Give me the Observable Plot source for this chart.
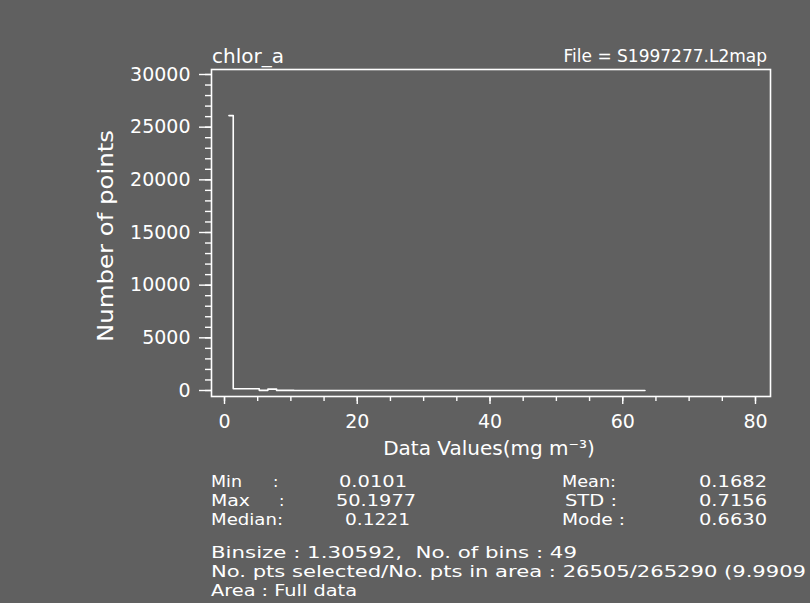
<!DOCTYPE html>
<html>
<head>
<meta charset="utf-8">
<script src="https://cdn.jsdelivr.net/npm/d3@7"></script>
<script src="https://cdn.jsdelivr.net/npm/@observablehq/plot@0.6"></script>
<style>
  html, body { margin: 0; padding: 0; background: #606060; overflow: hidden; }
  #chart { width: 810px; height: 603px; }
</style>
</head>
<body>
<div id="chart"></div>
<script>
// ---- data ----
const binCenters = [0.663, 1.969, 3.275, 4.581, 5.887, 7.193, 8.499, 9.804, 11.110, 12.416,
  13.722, 15.028, 16.334, 17.640, 18.946, 20.252, 21.558, 22.864, 24.170, 25.476,
  26.781, 28.087, 29.393, 30.699, 32.005, 33.311, 34.617, 35.923, 37.229, 38.535,
  39.841, 41.147, 42.453, 43.758, 45.064, 46.370, 47.676, 48.982, 50.288, 51.594,
  52.900, 54.206, 55.512, 56.818, 58.124, 59.430, 60.735, 62.041, 63.347];
const binCounts = [26100, 170, 170, 170, 15, 130, 10, 8, 6, 5,
  4, 3, 3, 2, 2, 2, 1, 1, 1, 1,
  1, 1, 1, 1, 1, 1, 1, 1, 1, 1,
  1, 1, 1, 1, 1, 1, 1, 1, 1, 0,
  0, 0, 0, 0, 0, 0, 0, 0, 0];
const yMajorTicks = [0, 5000, 10000, 15000, 20000, 25000, 30000];
const xMajorTicks = [0, 20, 40, 60, 80];
const yMinorTicks = d3.range(0, 30001, 1000);
const xMinorTicks = d3.range(0, 81, 5);

const variableName = "chlor_a";
const fileLabel = "File = S1997277.L2map";
const yTitle = "Number of points";
const xTitle = "Data Values(mg m\u207B\u00B3)";
const statLabels = ["Min", "Max", "Median:", "Mean:", "STD :", "Mode :"];
const statValues = ["0.0101", "50.1977", "0.1221", "0.1682", "0.7156", "0.6630"];
const infoLines = [
  "Binsize : 1.30592,  No. of bins : 49",
  "No. pts selected/No. pts in area : 26505/265290 (9.9909",
  "Area : Full data"
];

const hist = binCenters.map((x, i) => ({x, count: binCounts[i]}));

const WHITE = "#ffffff";
const chart = Plot.plot({
  width: 810,
  height: 603,
  marginLeft: 211,
  marginRight: 40,
  marginTop: 69,
  marginBottom: 207,
  style: {background: "#606060", color: WHITE, fontFamily: "DejaVu Sans", overflow: "visible"},
  x: {domain: [-1.96, 82.26], label: null},
  y: {domain: [-570, 30475], label: null},
  marks: [
    Plot.frame({stroke: WHITE, strokeWidth: 1.6}),
    Plot.axisY(yMinorTicks, {tickSize: 6, tickFormat: () => "", label: null, stroke: WHITE, strokeWidth: 1.4}),
    Plot.axisY(yMajorTicks, {tickSize: 12, tickPadding: 9, fontSize: 19, tickFormat: d => String(d), label: null, stroke: WHITE, strokeWidth: 1.4}),
    Plot.axisX(xMinorTicks, {tickSize: 5, tickFormat: () => "", label: null, stroke: WHITE, strokeWidth: 1.4}),
    Plot.axisX(xMajorTicks, {tickSize: 8, tickPadding: 10, fontSize: 19, tickFormat: d => String(d), label: null, stroke: WHITE, strokeWidth: 1.4}),
    Plot.line(hist, {x: "x", y: "count", curve: "step", stroke: WHITE, strokeWidth: 1.6})
  ]
});
document.getElementById("chart").appendChild(chart);

// ---- annotations (titles and statistics text) ----
const svg = d3.select(chart);
const g = svg.append("g").attr("fill", WHITE).attr("font-family", "DejaVu Sans");
function addText(t) {
  const el = g.append("text")
    .attr("x", t.x).attr("y", t.y)
    .attr("font-size", t.size)
    .attr("text-anchor", t.anchor || "start")
    .text(t.text);
  if (t.width) el.attr("textLength", t.width).attr("lengthAdjust", "spacingAndGlyphs");
  if (t.rotate) el.attr("transform", `rotate(${t.rotate},${t.x},${t.y})`);
  return el;
}
addText({text: variableName, x: 212, y: 63, size: 20});
addText({text: fileLabel, x: 767, y: 62, size: 17, anchor: "end"});
addText({text: yTitle, x: 113, y: 236, size: 21, anchor: "middle", rotate: -90, width: 212});
addText({text: xTitle, x: 489, y: 455, size: 20, anchor: "middle"});

// stats block
const SZ = 16;
const rowY = [487, 506, 525];
addText({text: statLabels[0], x: 211, y: rowY[0], size: SZ, width: 31});
addText({text: ":", x: 273, y: rowY[0], size: SZ});
addText({text: statValues[0], x: 339, y: rowY[0], size: SZ, width: 68});
addText({text: statLabels[1], x: 211, y: rowY[1], size: SZ, width: 39});
addText({text: ":", x: 279, y: rowY[1], size: SZ});
addText({text: statValues[1], x: 336, y: rowY[1], size: SZ, width: 80});
addText({text: statLabels[2], x: 211, y: rowY[2], size: SZ, width: 72});
addText({text: statValues[2], x: 345, y: rowY[2], size: SZ, width: 65});

addText({text: statLabels[3], x: 562, y: rowY[0], size: SZ, width: 54});
addText({text: statValues[3], x: 699, y: rowY[0], size: SZ, width: 68});
addText({text: statLabels[4], x: 565, y: rowY[1], size: SZ, width: 52});
addText({text: statValues[4], x: 699, y: rowY[1], size: SZ, width: 68});
addText({text: statLabels[5], x: 562, y: rowY[2], size: SZ, width: 63});
addText({text: statValues[5], x: 699, y: rowY[2], size: SZ, width: 68});

const SB = 16;
const infoY = [558, 577, 596];
addText({text: infoLines[0], x: 211, y: infoY[0], size: SB, width: 366});
addText({text: infoLines[1], x: 211, y: infoY[1], size: SB, width: 595});
addText({text: infoLines[2], x: 211, y: infoY[2], size: SB, width: 146});
</script>
</body>
</html>
